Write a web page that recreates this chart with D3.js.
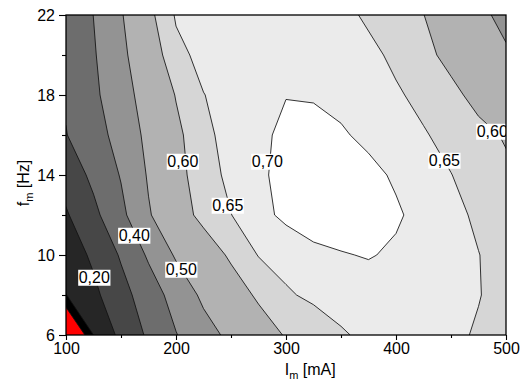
<!DOCTYPE html>
<html>
<head>
<meta charset="utf-8">
<script src="https://cdn.jsdelivr.net/npm/d3@7"></script>
<style>
body { margin: 0; background: #fff; }
text { font-family: "Liberation Sans", Arial, sans-serif; fill: #000; }
</style>
</head>
<body>
<svg class="contour_chart" width="525" height="381"></svg>
<script>
// grid: I_m in mA (columns), f_m in Hz (rows)
const currents = [100, 125, 150, 175, 200, 225, 250, 275, 300, 325, 350, 375, 400, 425, 450, 475, 500];
const freqs = [6, 8, 10, 12, 14, 16, 18, 20, 22];

// one row per frequency, low to high
const efficiency = [
    [-0.22, 0.100, 0.226, 0.315, 0.396, 0.465, 0.521, 0.566, 0.605, 0.625, 0.645, 0.660, 0.668, 0.668, 0.660, 0.645, 0.632],
    [0.098, 0.178, 0.266, 0.350, 0.438, 0.518, 0.566, 0.610, 0.645, 0.658, 0.668, 0.677, 0.680, 0.677, 0.668, 0.652, 0.633],
    [0.145, 0.217, 0.310, 0.413, 0.511, 0.562, 0.610, 0.652, 0.664, 0.688, 0.697, 0.703, 0.693, 0.679, 0.665, 0.651, 0.632],
    [0.190, 0.276, 0.376, 0.492, 0.568, 0.618, 0.649, 0.683, 0.712, 0.725, 0.727, 0.720, 0.706, 0.685, 0.663, 0.642, 0.622],
    [0.240, 0.322, 0.406, 0.509, 0.581, 0.628, 0.662, 0.693, 0.712, 0.722, 0.724, 0.712, 0.694, 0.672, 0.651, 0.630, 0.610],
    [0.297, 0.357, 0.438, 0.523, 0.586, 0.638, 0.667, 0.692, 0.708, 0.712, 0.705, 0.690, 0.672, 0.654, 0.635, 0.615, 0.595],
    [0.310, 0.380, 0.464, 0.538, 0.603, 0.649, 0.665, 0.680, 0.699, 0.697, 0.688, 0.674, 0.656, 0.637, 0.614, 0.583, 0.541],
    [0.315, 0.391, 0.480, 0.561, 0.637, 0.663, 0.670, 0.680, 0.688, 0.690, 0.680, 0.662, 0.640, 0.615, 0.584, 0.542, 0.510],
    [0.320, 0.401, 0.493, 0.584, 0.655, 0.667, 0.676, 0.682, 0.684, 0.678, 0.664, 0.642, 0.621, 0.601, 0.560, 0.519, 0.478]
];

const levels = [0, 0.1, 0.2, 0.3, 0.4, 0.5, 0.6, 0.65, 0.7];
const levelColors = ['#000000', '#262626', '#474747', '#6d6d6d', '#939393', '#b2b2b2', '#d6d6d6', '#ebebeb', '#ffffff'];
const belowColor = '#ff0000';

const labelTexts = ['0,20', '0,40', '0,50', '0,60', '0,65', '0,70', '0,65', '0,60'];
const labelCurrents = [125.7, 162, 204.8, 206.2, 247, 283, 444, 487.5];
const labelFreqs = [8.9, 11.0, 9.3, 14.7, 12.5, 14.7, 14.75, 16.2];

const xTicks = [100, 200, 300, 400, 500];
const xMinor = [150, 250, 350, 450];
const yTicks = [6, 10, 14, 18, 22];
const yMinor = [8, 12, 16, 20];

const chart = d3.select('.contour_chart');
const margin = { left: 66, top: 15, right: 19, bottom: 46 };
const chartWidth = +chart.attr('width') - margin.left - margin.right;
const chartHeight = +chart.attr('height') - margin.top - margin.bottom;

const x = d3.scaleLinear().domain([100, 500]).range([0, chartWidth]);
const y = d3.scaleLinear().domain([6, 22]).range([chartHeight, 0]);

// grid index -> data value (sample i sits at i + 0.5 in d3.contours space)
const gx = d3.scaleLinear().domain([0.5, currents.length - 0.5]).range(d3.extent(currents));
const gy = d3.scaleLinear().domain([0.5, freqs.length - 0.5]).range(d3.extent(freqs));

const g = chart.append('g')
    .attr('transform', `translate(${margin.left} ${margin.top})`);

chart.append('defs').append('clipPath')
    .attr('id', 'plot-clip')
    .append('rect')
    .attr('width', chartWidth)
    .attr('height', chartHeight);

const plot = g.append('g').attr('clip-path', 'url(#plot-clip)');

plot.append('rect')
    .attr('width', chartWidth)
    .attr('height', chartHeight)
    .attr('fill', belowColor);

const contours = d3.contours()
    .size([currents.length, freqs.length])
    .thresholds(levels)(efficiency.flat());

const path = d3.geoPath(d3.geoTransform({
    point: function(px, py) { this.stream.point(x(gx(px)), y(gy(py))); }
}));

plot.selectAll('path.band')
    .data(contours)
    .join('path')
    .attr('class', 'band')
    .attr('d', path)
    .attr('fill', (d, i) => levelColors[i]);

plot.selectAll('path.line')
    .data(contours)
    .join('path')
    .attr('class', 'line')
    .attr('d', path)
    .attr('fill', 'none')
    .attr('stroke', '#111')
    .attr('stroke-width', 0.85);

// contour labels
const labels = plot.selectAll('g.clabel')
    .data(labelTexts)
    .join('g')
    .attr('class', 'clabel')
    .attr('transform', (d, i) => `translate(${x(labelCurrents[i])} ${y(labelFreqs[i])})`);

labels.append('text')
    .attr('text-anchor', 'middle')
    .attr('dy', '0.36em')
    .attr('font-size', 16)
    .text(d => d);

labels.each(function() {
    const gl = d3.select(this);
    const bb = gl.select('text').node().getBBox();
    gl.insert('rect', 'text')
        .attr('x', bb.x - 0.5)
        .attr('y', bb.y + 1)
        .attr('width', bb.width + 1)
        .attr('height', bb.height - 1)
        .attr('fill', '#fff');
});

// axes
g.append('g')
    .attr('transform', `translate(0, ${chartHeight})`)
    .call(d3.axisBottom(x).tickValues(xTicks).tickSize(5).tickPadding(3));
g.append('g')
    .attr('transform', `translate(0, ${chartHeight})`)
    .call(d3.axisBottom(x).tickValues(xMinor).tickSize(3).tickFormat(''));

g.append('g')
    .call(d3.axisLeft(y).tickValues(yTicks).tickSize(7).tickPadding(4));
g.append('g')
    .call(d3.axisLeft(y).tickValues(yMinor).tickSize(4).tickFormat(''));

g.selectAll('.domain').remove();
g.selectAll('.tick line').attr('stroke', '#000').attr('stroke-width', 1.1);
g.selectAll('.tick text').attr('font-size', 16).attr('font-family', '"Liberation Sans", Arial, sans-serif');

g.append('rect')
    .attr('width', chartWidth)
    .attr('height', chartHeight)
    .attr('fill', 'none')
    .attr('stroke', '#000')
    .attr('stroke-width', 1.3);

// axis titles
const xTitle = chart.append('text')
    .attr('x', margin.left + x(322))
    .attr('y', 375)
    .attr('text-anchor', 'middle')
    .attr('font-size', 16);
xTitle.append('tspan').text('I');
xTitle.append('tspan').attr('dy', 4).attr('font-size', 11).text('m');
xTitle.append('tspan').attr('dy', -4).text(' [mA]');

const yTitle = chart.append('text')
    .attr('transform', `translate(29, ${margin.top + y(13.6)}) rotate(-90)`)
    .attr('text-anchor', 'middle')
    .attr('font-size', 16);
yTitle.append('tspan').text('f');
yTitle.append('tspan').attr('dy', 4).attr('font-size', 11).text('m');
yTitle.append('tspan').attr('dy', -4).text(' [Hz]');
</script>
</body>
</html>
